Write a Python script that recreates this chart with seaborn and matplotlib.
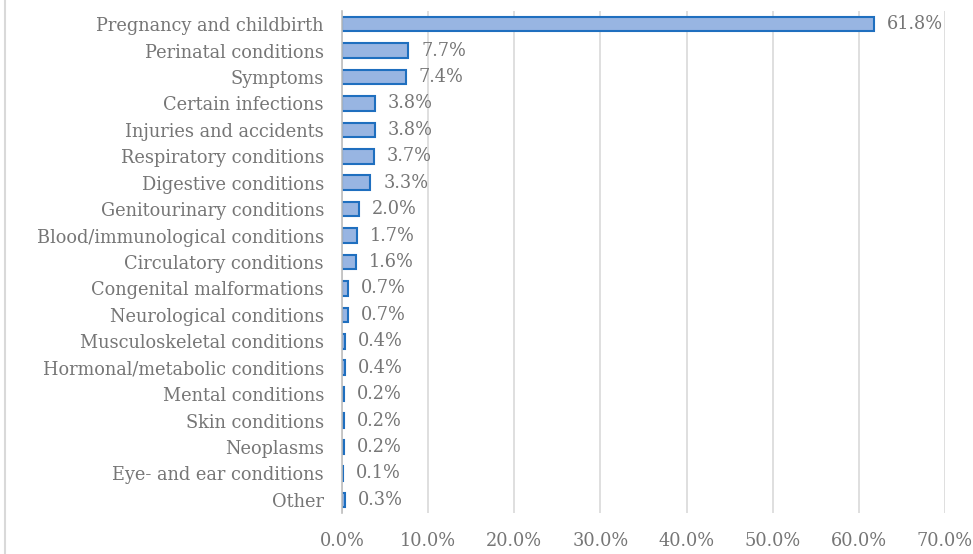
import matplotlib
matplotlib.use("Agg")
import matplotlib.pyplot as plt
import seaborn as sns
import pandas as pd
from matplotlib.ticker import FuncFormatter
from matplotlib.lines import Line2D

categories = ["Pregnancy and childbirth", "Perinatal conditions", "Symptoms",
              "Certain infections", "Injuries and accidents", "Respiratory conditions",
              "Digestive conditions", "Genitourinary conditions",
              "Blood/immunological conditions", "Circulatory conditions",
              "Congenital malformations", "Neurological conditions",
              "Musculoskeletal conditions", "Hormonal/metabolic conditions",
              "Mental conditions", "Skin conditions", "Neoplasms",
              "Eye- and ear conditions", "Other"]
values = [61.8, 7.7, 7.4, 3.8, 3.8, 3.7, 3.3, 2.0, 1.7, 1.6, 0.7, 0.7,
          0.4, 0.4, 0.2, 0.2, 0.2, 0.1, 0.3]

df = pd.DataFrame({"cat": categories, "val": values})

sns.set_style("white")
plt.rcParams['font.family'] = ['DejaVu Serif']
txt = "#767676"
fs = 12.8

fig = plt.figure(figsize=(9.73, 5.54), dpi=100)
ax = fig.add_axes([342 / 973, 1 - 513 / 554, (945 - 342) / 973, (513 - 11) / 554])

sns.barplot(data=df, x="val", y="cat", orient="h", color="#98b5e2",
            edgecolor="#1f6fbf", linewidth=1.5, width=0.55, saturation=1, ax=ax)

for i, v in enumerate(values):
    ax.text(v + 1.5, i, f"{v:.1f}%", va="center", ha="left", fontsize=fs, color=txt)

ax.set_xlim(0, 70)
ax.set_xticks(range(0, 71, 10))
ax.xaxis.set_major_formatter(FuncFormatter(lambda x, p: f"{x:.1f}%"))
ax.xaxis.grid(True, color="#d9d9d9", linewidth=1.2)
ax.set_axisbelow(True)
ax.set_xlabel("")
ax.set_ylabel("")
ax.tick_params(axis="x", colors=txt, labelsize=fs, length=0, pad=14)
ax.tick_params(axis="y", colors=txt, labelsize=fs, length=0, pad=13)
for s in ["top", "right", "bottom"]:
    ax.spines[s].set_visible(False)
ax.spines["left"].set_color("#bfbfbf")
ax.spines["left"].set_linewidth(1.2)

fig.add_artist(Line2D([5 / 973, 5 / 973], [0, 1], color="#d9d9d9", linewidth=1.5,
                      transform=fig.transFigure))

fig.savefig("out.png", dpi=100)
